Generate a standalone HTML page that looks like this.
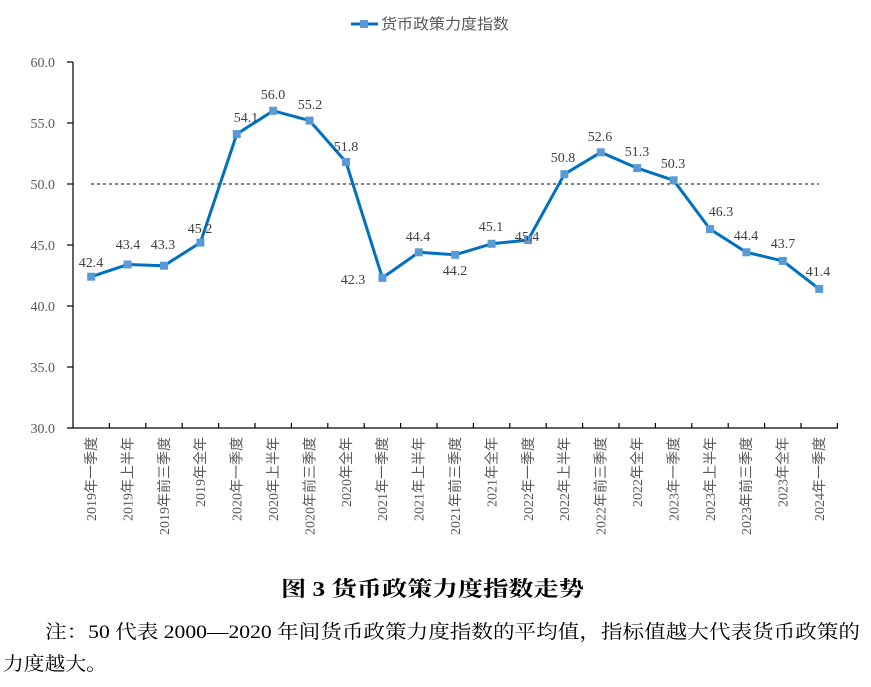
<!DOCTYPE html>
<html><head><meta charset="utf-8"><style>
html,body{margin:0;padding:0;background:#fff;}
svg{display:block;}
.t{font-family:"Liberation Serif","Noto Serif CJK SC",serif;font-size:14px;fill:#595959;}
.c{font-family:"Liberation Serif","Noto Sans CJK SC",sans-serif;font-size:14px;fill:#595959;}
</style></head><body>
<svg width="871" height="687" viewBox="0 0 871 687" xmlns="http://www.w3.org/2000/svg">
<line x1="351" y1="24" x2="378" y2="24" stroke="#0070C0" stroke-width="3"/>
<rect x="360" y="20" width="8" height="8" fill="#5B9BD5"/>
<text x="381" y="29" textLength="128" lengthAdjust="spacingAndGlyphs" style="font-family:'Noto Sans CJK SC',sans-serif;font-size:15px;fill:#595959">货币政策力度指数</text>
<g stroke="#000" stroke-width="1.2">
<line x1="73" y1="62" x2="73" y2="428"/>
<line x1="67" y1="62" x2="73" y2="62"/><line x1="67" y1="123" x2="73" y2="123"/>
<line x1="67" y1="184" x2="73" y2="184"/><line x1="67" y1="245" x2="73" y2="245"/>
<line x1="67" y1="306" x2="73" y2="306"/><line x1="67" y1="367" x2="73" y2="367"/>
<line x1="67" y1="428" x2="838" y2="428"/>
</g>
<g stroke="#000" stroke-width="1.2">
<line x1="109.4" y1="423" x2="109.4" y2="428"/><line x1="145.8" y1="423" x2="145.8" y2="428"/><line x1="182.2" y1="423" x2="182.2" y2="428"/><line x1="218.6" y1="423" x2="218.6" y2="428"/><line x1="255" y1="423" x2="255" y2="428"/><line x1="291.4" y1="423" x2="291.4" y2="428"/><line x1="327.8" y1="423" x2="327.8" y2="428"/><line x1="364.2" y1="423" x2="364.2" y2="428"/><line x1="400.6" y1="423" x2="400.6" y2="428"/><line x1="437" y1="423" x2="437" y2="428"/><line x1="473.4" y1="423" x2="473.4" y2="428"/><line x1="509.8" y1="423" x2="509.8" y2="428"/><line x1="546.2" y1="423" x2="546.2" y2="428"/><line x1="582.6" y1="423" x2="582.6" y2="428"/><line x1="619" y1="423" x2="619" y2="428"/><line x1="655.4" y1="423" x2="655.4" y2="428"/><line x1="691.8" y1="423" x2="691.8" y2="428"/><line x1="728.2" y1="423" x2="728.2" y2="428"/><line x1="764.6" y1="423" x2="764.6" y2="428"/><line x1="801" y1="423" x2="801" y2="428"/><line x1="837.4" y1="423" x2="837.4" y2="428"/>
</g>
<g class="t" text-anchor="end">
<text x="55" y="67">60.0</text><text x="55" y="128">55.0</text><text x="55" y="189">50.0</text>
<text x="55" y="250">45.0</text><text x="55" y="311">40.0</text><text x="55" y="372">35.0</text><text x="55" y="433">30.0</text>
</g>
<line x1="91" y1="184" x2="819" y2="184" stroke="#000" stroke-width="1" stroke-dasharray="3,3"/>
<polyline fill="none" stroke="#0070C0" stroke-width="3" stroke-linejoin="round" points="91.2,276.7 127.6,264.5 164,265.7 200.4,242.6 236.8,134 273.2,110.8 309.6,120.6 346,162 382.4,277.9 418.8,252.3 455.2,254.8 491.6,243.8 528,240.1 564.4,174.2 600.8,152.3 637.2,168.1 673.6,180.3 710,229.1 746.4,252.3 782.8,260.9 819.2,288.9"/>
<g fill="#5B9BD5">
<rect x="87.2" y="272.7" width="8" height="8"/><rect x="123.6" y="260.5" width="8" height="8"/><rect x="160" y="261.7" width="8" height="8"/><rect x="196.4" y="238.6" width="8" height="8"/><rect x="232.8" y="130" width="8" height="8"/><rect x="269.2" y="106.8" width="8" height="8"/><rect x="305.6" y="116.6" width="8" height="8"/><rect x="342" y="158" width="8" height="8"/><rect x="378.4" y="273.9" width="8" height="8"/><rect x="414.8" y="248.3" width="8" height="8"/><rect x="451.2" y="250.8" width="8" height="8"/><rect x="487.6" y="239.8" width="8" height="8"/><rect x="524" y="236.1" width="8" height="8"/><rect x="560.4" y="170.2" width="8" height="8"/><rect x="596.8" y="148.3" width="8" height="8"/><rect x="633.2" y="164.1" width="8" height="8"/><rect x="669.6" y="176.3" width="8" height="8"/><rect x="706" y="225.1" width="8" height="8"/><rect x="742.4" y="248.3" width="8" height="8"/><rect x="778.8" y="256.9" width="8" height="8"/><rect x="815.2" y="284.9" width="8" height="8"/>
</g>
<g class="t" text-anchor="middle" style="fill:#404040">
<text x="91" y="267">42.4</text><text x="128" y="249">43.4</text><text x="163" y="249">43.3</text><text x="200" y="233">45.2</text>
<text x="246" y="122">54.1</text><text x="273" y="99">56.0</text><text x="310" y="109">55.2</text><text x="346" y="151">51.8</text>
<text x="353" y="284">42.3</text><text x="418" y="241">44.4</text><text x="455" y="275">44.2</text><text x="491" y="231">45.1</text>
<text x="527" y="241">45.4</text><text x="563" y="162">50.8</text><text x="600" y="141">52.6</text><text x="637" y="156">51.3</text>
<text x="673" y="168">50.3</text><text x="721" y="216">46.3</text><text x="746" y="240">44.4</text><text x="783" y="248">43.7</text><text x="818" y="276">41.4</text>
</g>
<g class="c" text-anchor="end">
<text transform="translate(96,437) rotate(-90)">2019年一季度</text>
<text transform="translate(132.4,437) rotate(-90)">2019年上半年</text>
<text transform="translate(168.8,437) rotate(-90)">2019年前三季度</text>
<text transform="translate(205.2,437) rotate(-90)">2019年全年</text>
<text transform="translate(241.6,437) rotate(-90)">2020年一季度</text>
<text transform="translate(278,437) rotate(-90)">2020年上半年</text>
<text transform="translate(314.4,437) rotate(-90)">2020年前三季度</text>
<text transform="translate(350.8,437) rotate(-90)">2020年全年</text>
<text transform="translate(387.2,437) rotate(-90)">2021年一季度</text>
<text transform="translate(423.6,437) rotate(-90)">2021年上半年</text>
<text transform="translate(460,437) rotate(-90)">2021年前三季度</text>
<text transform="translate(496.4,437) rotate(-90)">2021年全年</text>
<text transform="translate(532.8,437) rotate(-90)">2022年一季度</text>
<text transform="translate(569.2,437) rotate(-90)">2022年上半年</text>
<text transform="translate(605.6,437) rotate(-90)">2022年前三季度</text>
<text transform="translate(642,437) rotate(-90)">2022年全年</text>
<text transform="translate(678.4,437) rotate(-90)">2023年一季度</text>
<text transform="translate(714.8,437) rotate(-90)">2023年上半年</text>
<text transform="translate(751.2,437) rotate(-90)">2023年前三季度</text>
<text transform="translate(787.6,437) rotate(-90)">2023年全年</text>
<text transform="translate(824,437) rotate(-90)">2024年一季度</text>
</g>
<text x="281" y="596" textLength="303" lengthAdjust="spacingAndGlyphs" style="font-family:'Liberation Serif','Noto Serif CJK SC',serif;font-size:21px;font-weight:bold;fill:#000">图 3  货币政策力度指数走势</text>
<text x="45" y="638" textLength="815" lengthAdjust="spacingAndGlyphs" style="font-family:'Liberation Serif','Noto Serif CJK SC',serif;font-size:19px;fill:#000">注：50 代表 2000—2020 年间货币政策力度指数的平均值，指标值越大代表货币政策的</text>
<text x="3" y="670" textLength="104" lengthAdjust="spacingAndGlyphs" style="font-family:'Liberation Serif','Noto Serif CJK SC',serif;font-size:19px;fill:#000">力度越大。</text>
</svg>
</body></html>
